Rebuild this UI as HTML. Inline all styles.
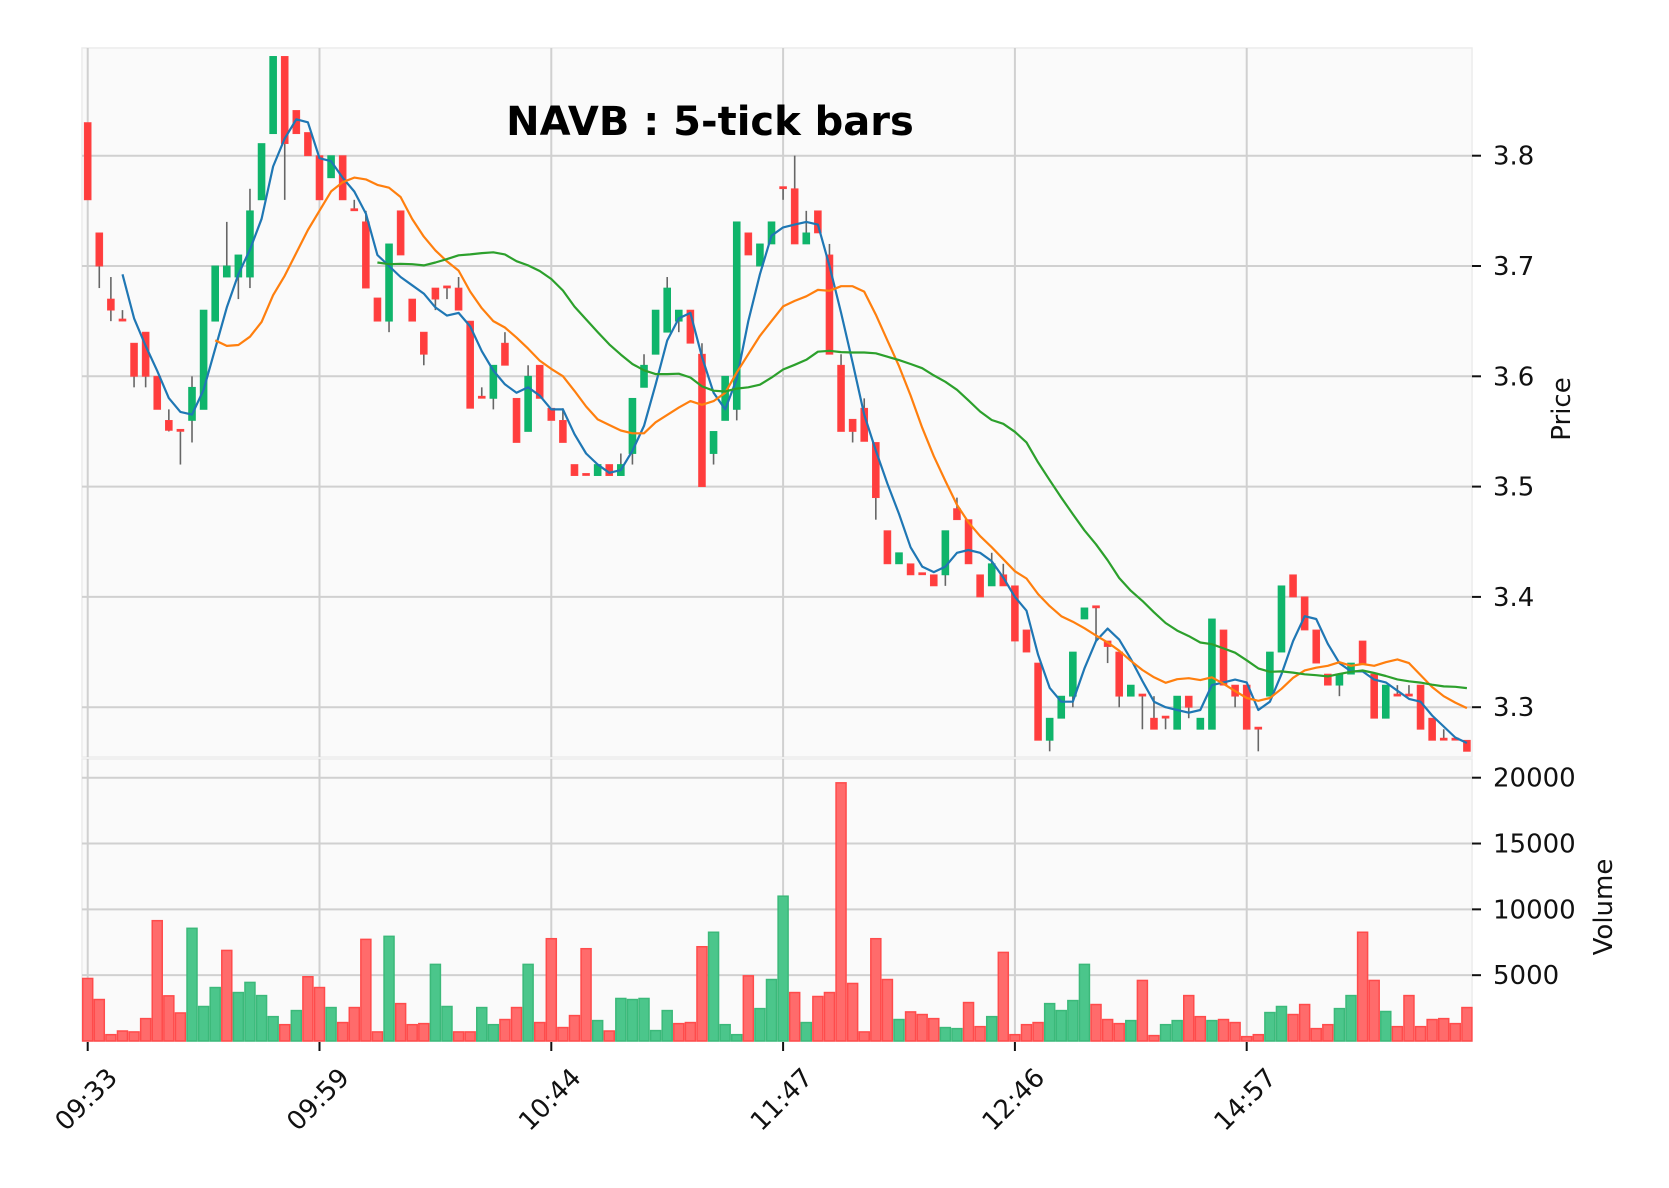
<!DOCTYPE html>
<html><head><meta charset="utf-8"><style>
html,body{margin:0;padding:0;background:#fff;}
svg{display:block;font-family:"DejaVu Sans","Liberation Sans",sans-serif;}
</style></head><body>
<svg id="chart" width="1669" height="1188" viewBox="0 0 1669 1188" xmlns="http://www.w3.org/2000/svg">
<rect x="0" y="0" width="1669" height="1188" fill="#ffffff"/>
<rect x="82" y="48" width="1390" height="709" fill="#fafafa" stroke="#ececec" stroke-width="1.5"/>
<rect x="82" y="759" width="1390" height="282" fill="#fafafa" stroke="#ececec" stroke-width="1.5"/>
<g id="grid"></g>
<g id="vol"></g>
<g id="candles"></g>
<g id="mas"></g>
<g id="axes"></g>
<text x="710" y="135" text-anchor="middle" font-size="40" font-weight="bold" fill="#000">NAVB : 5-tick bars</text>
<text x="0" y="0" transform="translate(1570,409) rotate(-90)" text-anchor="middle" font-size="26" fill="#111">Price</text>
<text x="0" y="0" transform="translate(1612,907) rotate(-90)" text-anchor="middle" font-size="26" fill="#111">Volume</text>
</svg>
<script>
const opens=[3.83,3.73,3.67,3.651,3.63,3.64,3.60,3.56,3.551,3.56,3.57,3.65,3.69,3.69,3.69,3.76,3.82,3.89,3.841,3.821,3.80,3.78,3.80,3.751,3.74,3.671,3.65,3.75,3.67,3.64,3.68,3.681,3.68,3.65,3.581,3.58,3.63,3.58,3.55,3.61,3.571,3.56,3.52,3.511,3.51,3.52,3.51,3.53,3.59,3.62,3.64,3.65,3.66,3.62,3.53,3.56,3.57,3.73,3.70,3.72,3.771,3.77,3.72,3.75,3.71,3.61,3.561,3.571,3.54,3.46,3.43,3.43,3.421,3.42,3.42,3.48,3.47,3.42,3.41,3.42,3.41,3.37,3.34,3.27,3.29,3.31,3.38,3.391,3.36,3.35,3.31,3.311,3.29,3.291,3.28,3.31,3.28,3.28,3.37,3.32,3.32,3.281,3.31,3.35,3.42,3.40,3.37,3.33,3.32,3.33,3.36,3.33,3.29,3.311,3.311,3.32,3.29,3.271,3.271,3.27];
const highs=[3.83,3.73,3.69,3.66,3.63,3.64,3.60,3.57,3.551,3.60,3.66,3.70,3.74,3.71,3.77,3.811,3.89,3.89,3.841,3.821,3.80,3.80,3.80,3.76,3.75,3.671,3.72,3.75,3.67,3.64,3.68,3.681,3.69,3.65,3.59,3.61,3.64,3.58,3.61,3.61,3.571,3.571,3.52,3.511,3.52,3.52,3.53,3.58,3.62,3.66,3.69,3.66,3.66,3.63,3.55,3.60,3.74,3.73,3.72,3.74,3.771,3.80,3.75,3.75,3.72,3.62,3.561,3.58,3.54,3.46,3.44,3.43,3.421,3.42,3.46,3.49,3.47,3.42,3.44,3.43,3.41,3.37,3.34,3.29,3.31,3.35,3.39,3.391,3.36,3.35,3.32,3.311,3.31,3.291,3.31,3.31,3.29,3.38,3.37,3.32,3.32,3.281,3.35,3.41,3.42,3.40,3.37,3.33,3.33,3.34,3.36,3.33,3.32,3.32,3.32,3.32,3.29,3.28,3.271,3.27];
const lows=[3.76,3.68,3.65,3.65,3.59,3.59,3.57,3.55,3.52,3.54,3.57,3.65,3.69,3.67,3.68,3.76,3.82,3.76,3.82,3.80,3.76,3.78,3.76,3.75,3.68,3.65,3.64,3.71,3.65,3.61,3.66,3.67,3.66,3.571,3.58,3.57,3.61,3.54,3.55,3.58,3.56,3.54,3.51,3.51,3.51,3.51,3.51,3.52,3.59,3.62,3.64,3.64,3.63,3.50,3.52,3.56,3.56,3.71,3.70,3.72,3.76,3.72,3.72,3.73,3.62,3.55,3.54,3.541,3.47,3.43,3.43,3.42,3.42,3.41,3.41,3.47,3.43,3.40,3.41,3.41,3.36,3.35,3.27,3.26,3.29,3.30,3.38,3.36,3.34,3.30,3.31,3.28,3.28,3.28,3.28,3.29,3.28,3.28,3.32,3.30,3.28,3.26,3.31,3.35,3.40,3.37,3.34,3.32,3.31,3.33,3.34,3.29,3.29,3.31,3.31,3.28,3.27,3.27,3.27,3.26];
const closes=[3.76,3.70,3.66,3.65,3.60,3.60,3.57,3.551,3.55,3.59,3.66,3.70,3.70,3.71,3.75,3.811,3.89,3.811,3.82,3.80,3.76,3.80,3.76,3.75,3.68,3.65,3.72,3.71,3.65,3.62,3.67,3.68,3.66,3.571,3.58,3.61,3.61,3.54,3.60,3.58,3.56,3.54,3.51,3.51,3.52,3.51,3.52,3.58,3.61,3.66,3.68,3.66,3.63,3.50,3.55,3.60,3.74,3.71,3.72,3.74,3.77,3.72,3.73,3.73,3.62,3.55,3.55,3.541,3.49,3.43,3.44,3.42,3.42,3.41,3.46,3.47,3.43,3.40,3.43,3.41,3.36,3.35,3.27,3.29,3.31,3.35,3.39,3.39,3.355,3.31,3.32,3.31,3.28,3.29,3.31,3.30,3.29,3.38,3.32,3.31,3.28,3.28,3.35,3.41,3.40,3.37,3.34,3.32,3.33,3.34,3.34,3.29,3.32,3.31,3.31,3.28,3.27,3.27,3.27,3.26];
const volumes=[4750,3150,480,760,690,1700,9140,3430,2130,8560,2620,4060,6880,3680,4450,3450,1850,1240,2310,4880,4060,2540,1400,2540,7720,690,7950,2840,1240,1320,5820,2620,690,690,2540,1240,1630,2540,5820,1400,7770,1020,1930,7010,1550,760,3230,3150,3230,790,2310,1320,1400,7160,8260,1240,480,4950,2460,4670,11000,3680,1400,3380,3680,19610,4370,690,7770,4670,1630,2210,2010,1700,1020,940,2920,1090,1850,6730,480,1240,1400,2840,2310,3070,5820,2770,1630,1320,1550,4600,410,1240,1550,3450,1850,1550,1630,1400,330,480,2160,2620,2010,2770,940,1240,2460,3450,8260,4600,2240,1090,3450,1090,1630,1700,1320,2540];
const maPeriods=[4,12,26];
const maColors=['#1f77b4','#ff7f0e','#2ca02c'];
const tickBars=[0,20,40,60,80,100];
const tickLabels=['09:33','09:59','10:44','11:47','12:46','14:57'];
const priceTicks=[3.3,3.4,3.5,3.6,3.7,3.8];
const volTicks=[5000,10000,15000,20000];

const NS='http://www.w3.org/2000/svg';
const X0=87.7, DX=11.59;
const xOf=i=>X0+DX*i;
const yP=p=>155.7+(3.8-p)*1103;
const yV=v=>1041-v*0.013165;
function mk(tag,attrs,parent){const e=document.createElementNS(NS,tag);for(const k in attrs)e.setAttribute(k,attrs[k]);parent.appendChild(e);return e;}
const grid=document.getElementById('grid'),vol=document.getElementById('vol'),cg=document.getElementById('candles'),mg=document.getElementById('mas'),ax=document.getElementById('axes');

tickBars.forEach((b,k)=>{
  const x=xOf(b);
  const g1=mk('line',{x1:x,x2:x,y1:48,y2:757,stroke:'#d0d0d0','stroke-width':2},grid);
  
  
  const g2=mk('line',{x1:x,x2:x,y1:759,y2:1041,stroke:'#d0d0d0','stroke-width':2},grid);
  
  
  const tm=mk('line',{x1:x,x2:x,y1:1042,y2:1051,stroke:'#111','stroke-width':2},ax);
  
  
  const t=mk('text',{x:0,y:0,transform:`translate(${x-1},1100) rotate(-45)`,'text-anchor':'middle','dominant-baseline':'central','font-size':26,fill:'#111'},ax);
  t.textContent=tickLabels[k];
  
  
});
priceTicks.forEach(p=>{
  const y=yP(p);
  const g=mk('line',{x1:82,x2:1472,y1:y,y2:y,stroke:'#d0d0d0','stroke-width':2},grid);
  
  
  const tm=mk('line',{x1:1472,x2:1481,y1:y,y2:y,stroke:'#111','stroke-width':2},ax);
  
  
  const t=mk('text',{x:1493,y:y+9,'font-size':26,fill:'#111'},ax);
  t.textContent=p.toFixed(1);
  
  
});
volTicks.forEach(v=>{
  const y=yV(v);
  const g=mk('line',{x1:82,x2:1472,y1:y,y2:y,stroke:'#d0d0d0','stroke-width':2},grid);
  
  
  const tm=mk('line',{x1:1472,x2:1481,y1:y,y2:y,stroke:'#111','stroke-width':2},ax);
  
  
  const t=mk('text',{x:1493,y:y+9,'font-size':26,fill:'#111'},ax);
  t.textContent=String(v);
  
  
});

volumes.forEach((v,i)=>{
  const up=i===0?closes[i]>opens[i]:closes[i]>closes[i-1];
  const y=yV(v);
  const r=mk('rect',{x:xOf(i)-5,y:y,width:10,height:1041-y,fill:up?'#4bc68b':'#ff6b6b',stroke:up?'#3bb97a':'#ff4b4b','stroke-width':1.5},vol);
  
  
});

opens.forEach((o,i)=>{
  const c=closes[i],x=xOf(i),up=c>=o;
  const w=mk('line',{x1:x,x2:x,y1:yP(highs[i]),y2:yP(lows[i]),stroke:'#666','stroke-width':1.6},cg);
  
  
  let y1=yP(Math.max(o,c)),h=Math.abs(yP(o)-yP(c));
  if(h<2){y1-=1;h=2;}
  const b=mk('rect',{x:x-3.4,y:y1,width:6.8,height:h,fill:up?'#0fb56b':'#ff3d3d',stroke:up?'#10b26a':'#ff4444','stroke-width':0.8},cg);
  
  
});

maPeriods.forEach((n,k)=>{
  const pts=[];
  for(let i=n-1;i<closes.length;i++){
    let s=0;for(let j=i-n+1;j<=i;j++)s+=closes[j];
    pts.push(xOf(i).toFixed(1)+','+yP(s/n).toFixed(1));
  }
  const l=mk('polyline',{points:pts.join(' '),fill:'none',stroke:maColors[k],'stroke-width':2.2,'stroke-linejoin':'round'},mg);
  
  
});
</script>
</body></html>
